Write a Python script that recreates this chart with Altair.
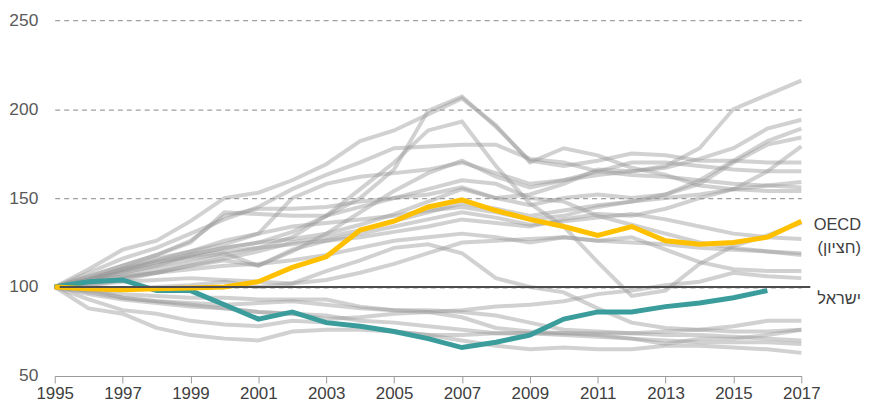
import altair as alt
import pandas as pd

years = list(range(1995, 2018))

# gray country lines (index 1995 = 100)
g01 = [100,110,121,126,137,150,153,160,169,182,188,197,206,191,170,178,174,167,163,157,155,154,154]
g02 = [100,104,108,112,118,122,125,131,140,150,166,199,207,190,171,168,171,175,174,171,171,170,170]
g03 = [100,103,106,110,114,118,122,128,140,155,170,188,193,168,147,134,114,95,98,113,123,129,136]
g04 = [100,108,116,122,130,138,145,155,163,170,178,179,180,180,172,170,165,163,162,160,158,157,156]
g05 = [100,102,105,108,112,115,112,120,130,142,154,164,171,162,156,160,165,170,170,168,166,165,165]
g06 = [100,106,112,118,126,140,144,144,145,148,150,152,156,150,152,158,166,165,168,178,200,208,216]
g07 = [100,104,110,116,120,124,130,150,158,162,164,166,170,164,158,160,163,165,167,172,178,189,194]
g08 = [100,104,109,114,118,122,125,127,130,135,141,148,155,150,146,150,152,150,152,160,171,182,189]
g09 = [100,101,104,108,112,116,120,125,128,132,137,142,147,144,140,143,146,148,152,158,170,180,184]
g10 = [100,105,110,114,117,120,122,124,126,128,131,134,138,136,134,138,141,140,144,150,155,165,179]
m01 = [100,101,103,104,105,104,103,102,104,108,113,119,125,126,127,128,126,125,124,122,121,120,119]
m02 = [100,98,99,100,101,103,100,102,109,115,122,124,119,105,100,97,88,80,77,76,75,75,76]
m03 = [100,103,106,108,110,112,113,115,118,122,126,128,130,128,125,128,126,128,121,114,110,109,109]
m05 = [100,98,96,95,94,94,93,93,93,89,87,86,87,89,90,92,96,98,101,103,108,106,105]
m06 = [100,104,110,115,120,126,130,134,136,138,140,143,145,142,138,140,145,148,150,152,155,157,159]
m07 = [100,106,112,118,125,142,141,140,140,145,150,155,160,158,150,148,140,135,130,125,122,120,118]
m09 = [100,104,108,112,116,119,112,121,126,130,134,138,142,139,135,137,139,141,138,134,130,128,127]
l01 = [100,96,93,91,89,88,86,85,82,83,85,86,83,77,75,74,74,74,75,76,78,81,81]
l02 = [100,88,85,77,73,71,70,75,76,76,75,73,73,74,74,73,72,71,70,69,69,69,68]
l03 = [100,93,87,85,81,79,78,81,80,78,75,73,70,67,65,66,65,65,67,67,66,65,63]
l04 = [100,99,94,92,90,88,86,85,84,81,80,78,76,74,74,74,73,71,68,71,71,73,76]
l05 = [100,97,94,92,91,90,91,92,90,88,87,87,86,84,80,76,75,74,73,73,72,71,70]

israel = [100,103,104,98,98,90,82,86,80,78,75,71,66,69,73,82,86,86,89,91,94,98]
oecd = [100,99,98.5,99,99.5,100,103,111,117,132,137,145,149,143,138,134,129,134,126,124,125,128,137]

label_texts = ["OECD", "(חציון)", "ישראל"]
label_values = [135, 122, 93]

gray = {"g01": g01, "g02": g02, "g03": g03, "g04": g04, "g05": g05, "g06": g06,
        "g07": g07, "g08": g08, "g09": g09, "g10": g10, "m01": m01, "m02": m02,
        "m03": m03, "m05": m05, "m06": m06, "m07": m07, "m09": m09, "l01": l01,
        "l02": l02, "l03": l03, "l04": l04, "l05": l05}

rows = []
for name, vals in gray.items():
    for y, v in zip(years, vals):
        rows.append({"year": y, "value": v, "series": name})
gray_df = pd.DataFrame(rows)
isr_df = pd.DataFrame({"year": years[:len(israel)], "value": israel})
oecd_df = pd.DataFrame({"year": years, "value": oecd})
lab_df = pd.DataFrame({"year": [2017] * 3, "value": label_values, "text": label_texts})

W, H = 751, 358
FONT = "Liberation Sans"

xenc = alt.X("year:Q",
             scale=alt.Scale(domain=[1995, 2017], nice=False, zero=False),
             axis=alt.Axis(values=years, format="d",
                           labelExpr="datum.value % 2 == 1 ? datum.label : ''",
                           title=None, grid=False, tickSize=7, tickColor="#9a9a9a",
                           domainColor="#9a9a9a", labelFontSize=17, labelColor="#404040",
                           labelPadding=3, labelFont=FONT, labelFlush=False,
                           labelOverlap=False))
yenc = alt.Y("value:Q",
             scale=alt.Scale(domain=[50, 250], nice=False, zero=False),
             axis=alt.Axis(values=[50, 100, 150, 200, 250], title=None, domain=False,
                           ticks=False, labelPadding=17, labelFontSize=17.5,
                           labelColor="#595959", labelFont=FONT, grid=True,
                           gridDash=[5, 4], gridColor="#a0a0a0", gridWidth=1.2))

gray_layer = alt.Chart(gray_df).mark_line(color="#999999", opacity=0.45, strokeWidth=4).encode(
    x=xenc, y=yenc, detail="series:N")
isr_layer = alt.Chart(isr_df).mark_line(color="#3A9D9C", strokeWidth=5).encode(
    x="year:Q", y="value:Q")
oecd_layer = alt.Chart(oecd_df).mark_line(color="#FFC000", strokeWidth=5).encode(
    x="year:Q", y="value:Q")
base_rule = alt.Chart(pd.DataFrame({"v": [100]})).mark_rule(color="#4d4d4d", strokeWidth=2).encode(
    y="v:Q", x=alt.value(5), x2=alt.value(W + 9))
labels = alt.Chart(lab_df).mark_text(align="right", baseline="middle", dx=60,
                                     fontSize=16.5, font=FONT, color="#404040").encode(
    x="year:Q", y="value:Q", text="text:N")

chart = alt.layer(gray_layer, isr_layer, oecd_layer, base_rule, labels).properties(
    width=W, height=H,
    autosize=alt.AutoSizeParams(type="none"),
    padding={"left": 47, "top": 11, "right": 60, "bottom": 28},
).configure_view(stroke=None)

chart.save("out.html", embed_options={"renderer": "svg", "actions": False})
